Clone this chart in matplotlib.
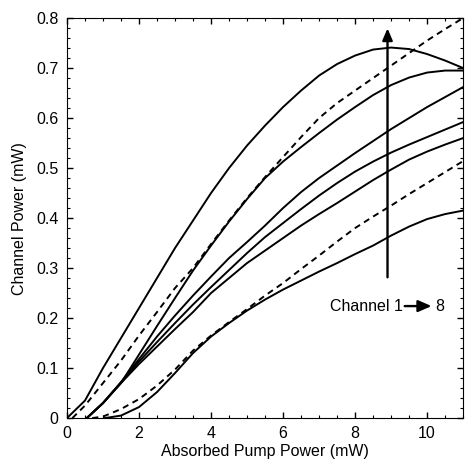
import matplotlib.pyplot as plt
from matplotlib.ticker import MultipleLocator, FuncFormatter

plt.rcParams["font.family"] = ["Liberation Sans", "DejaVu Sans"]

# Absorbed pump power (mW) sample points
x_full = [0, 0.5, 1, 1.5, 2, 2.5, 3, 3.5, 4, 4.5, 5, 5.5,
          6, 6.5, 7, 7.5, 8, 8.5, 9, 9.5, 10, 10.5, 11]
x_bundle = [0.55] + x_full[2:]
x_g = [0.15] + x_full[1:]
x_h = [0.7] + x_full[2:]
x_f = [1.05] + x_full[3:]

# channel powers (mW), solid curves
ch_a = [0, 0.035, 0.10, 0.16, 0.22, 0.28, 0.34, 0.395, 0.45, 0.50, 0.545, 0.585,
        0.622, 0.655, 0.685, 0.708, 0.725, 0.737, 0.741, 0.738, 0.728, 0.715, 0.70]
ch_b = [0, 0.03, 0.07, 0.127, 0.184, 0.24, 0.295, 0.345, 0.393, 0.438, 0.48,
        0.513, 0.542, 0.57, 0.597, 0.622, 0.646, 0.666, 0.681, 0.691, 0.695, 0.695]
ch_c = [0, 0.03, 0.072, 0.118, 0.163, 0.205, 0.245, 0.283, 0.32, 0.352, 0.385,
        0.42, 0.452, 0.48, 0.505, 0.53, 0.554, 0.578, 0.60, 0.622, 0.642, 0.662]
ch_d = [0, 0.03, 0.071, 0.113, 0.152, 0.19, 0.227, 0.262, 0.296, 0.33, 0.362,
        0.39, 0.418, 0.445, 0.47, 0.493, 0.513, 0.531, 0.547, 0.562, 0.577, 0.592]
ch_e = [0, 0.03, 0.07, 0.108, 0.143, 0.178, 0.212, 0.25, 0.28, 0.31, 0.335,
        0.36, 0.385, 0.408, 0.43, 0.453, 0.476, 0.497, 0.517, 0.533, 0.547, 0.56]
ch_f = [0, 0.005, 0.022, 0.052, 0.09, 0.13, 0.163, 0.19, 0.215, 0.237,
        0.257, 0.275, 0.293, 0.31, 0.328, 0.345, 0.365, 0.383, 0.398, 0.408, 0.415]

# dashed curves
ch_g = [0, 0.025, 0.07, 0.115, 0.165, 0.212, 0.26, 0.30, 0.348, 0.395, 0.44, 0.482,
        0.522, 0.562, 0.60, 0.63, 0.655, 0.68, 0.705, 0.73, 0.755, 0.778, 0.80]
ch_h = [0, 0.003, 0.018, 0.038, 0.065, 0.097, 0.135, 0.165, 0.192, 0.218, 0.245,
        0.27, 0.298, 0.325, 0.353, 0.38, 0.403, 0.425, 0.448, 0.47, 0.492, 0.514]

fig = plt.figure(figsize=(4.65, 4.63), dpi=100)
ax = fig.add_axes([0.144, 0.097, 0.852, 0.864])

lw = 1.4
ax.plot(x_full, ch_a, color="black", lw=lw)
for ys in (ch_b, ch_c, ch_d, ch_e):
    ax.plot(x_bundle, ys, color="black", lw=lw)
ax.plot(x_f, ch_f, color="black", lw=lw)
ax.plot(x_g, ch_g, color="black", lw=lw, dashes=(3.2, 2.4))
ax.plot(x_h, ch_h, color="black", lw=lw, dashes=(3.2, 2.4))

# arrow indicating channel order
ax.annotate("", xy=(8.9, 0.785), xytext=(8.9, 0.276),
            arrowprops=dict(arrowstyle="-|>,head_length=0.7,head_width=0.3",
                            color="black", lw=1.7))
ax.text(7.29, 0.224, "Channel 1", fontsize=11.5, va="center", ha="left")
ax.annotate("", xy=(10.2, 0.224), xytext=(9.3, 0.224),
            arrowprops=dict(arrowstyle="-|>,head_length=0.8,head_width=0.35",
                            color="black", lw=1.7))
ax.text(10.22, 0.224, "8", fontsize=11.5, va="center", ha="left")

ax.set_xlim(0, 11)
ax.set_ylim(0, 0.8)
ax.xaxis.set_major_locator(MultipleLocator(2))
ax.xaxis.set_minor_locator(MultipleLocator(0.5))
ax.yaxis.set_major_locator(MultipleLocator(0.1))
ax.yaxis.set_minor_locator(MultipleLocator(0.02))
ax.yaxis.set_major_formatter(FuncFormatter(lambda v, p: "0" if abs(v) < 1e-9 else "%.1f" % v))
ax.tick_params(which="both", direction="in", top=True, right=True, labelsize=11.5, pad=6)
ax.tick_params(which="major", length=4, width=1)
ax.tick_params(which="minor", length=2.5, width=0.8)
ax.set_xlabel("Absorbed Pump Power (mW)", fontsize=11.5, labelpad=2)
ax.set_ylabel("Channel Power (mW)", fontsize=11.5, labelpad=7)

fig.savefig("out.png", dpi=100)
